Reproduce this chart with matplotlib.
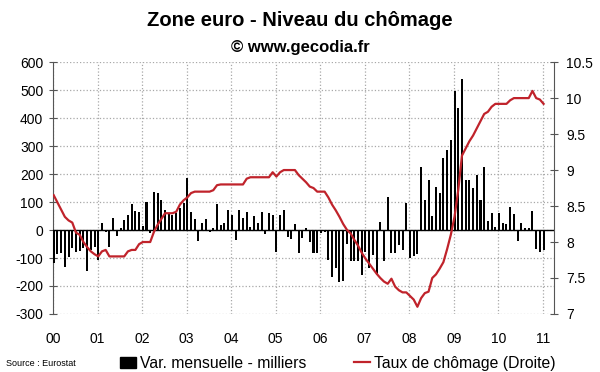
import numpy as np
import matplotlib
matplotlib.use("Agg")
import matplotlib.pyplot as plt
from matplotlib.patches import Patch
from matplotlib.lines import Line2D

plt.rcParams['font.family'] = ['Liberation Sans', 'DejaVu Sans']
plt.rcParams['axes.unicode_minus'] = False

# monthly change in unemployed persons (thousands), Jan 2000 -> Jan 2011
var_2000 = [-119, -86, -81, -133, -98, -65, -77, -74, -65, -145, -71, -60]
var_2001 = [-107, 26, -6, -62, 44, -21, 6, 36, 54, 93, 69, 63]
var_2002 = [14, 99, -12, 135, 131, 107, 71, 56, 54, 60, 77, 95]
var_2003 = [185, 65, 38, -40, 26, 38, -7, 6, 92, 18, 26, 71]
var_2004 = [54, -36, 71, 42, 65, 12, 51, 24, 65, -14, 60, 54]
var_2005 = [-77, 54, 71, -26, -32, 21, -83, -30, 8, -42, -81, -81]
var_2006 = [-12, -6, -107, -169, -137, -185, -181, -50, -110, -110, -110, -161]
var_2007 = [-77, -137, -89, -161, 30, -110, 117, -81, -83, -54, -71, 95]
var_2008 = [-101, -93, -86, 226, 107, 179, 50, 152, 133, 258, 286, 321]
var_2009 = [498, 435, 539, 179, 179, 149, 195, 107, 224, 33, 60, 10]
var_2010 = [60, 24, 21, 81, 57, -38, 24, 6, 6, 68, -69, -80]
var_2011 = [-71]

# unemployment rate (%), right axis
taux_2000 = [8.65, 8.55, 8.45, 8.35, 8.30, 8.27, 8.13, 8.10, 8.00, 7.93, 7.87, 7.83]
taux_2001 = [7.80, 7.87, 7.89, 7.80, 7.80, 7.80, 7.80, 7.80, 7.87, 7.89, 7.89, 7.97]
taux_2002 = [8.00, 8.00, 8.00, 8.14, 8.24, 8.32, 8.40, 8.40, 8.40, 8.42, 8.52, 8.58]
taux_2003 = [8.62, 8.68, 8.70, 8.70, 8.70, 8.70, 8.70, 8.72, 8.79, 8.80, 8.80, 8.80]
taux_2004 = [8.80, 8.80, 8.80, 8.80, 8.88, 8.90, 8.90, 8.90, 8.90, 8.90, 8.90, 8.97]
taux_2005 = [8.91, 8.97, 9.00, 9.00, 9.00, 9.00, 8.93, 8.88, 8.83, 8.77, 8.75, 8.70]
taux_2006 = [8.70, 8.70, 8.62, 8.52, 8.44, 8.35, 8.25, 8.17, 8.12, 8.03, 7.95, 7.85]
taux_2007 = [7.77, 7.70, 7.63, 7.56, 7.50, 7.45, 7.42, 7.49, 7.38, 7.33, 7.30, 7.30]
taux_2008 = [7.25, 7.20, 7.10, 7.22, 7.29, 7.31, 7.50, 7.55, 7.63, 7.72, 7.90, 8.10]
taux_2009 = [8.35, 8.72, 9.20, 9.30, 9.40, 9.48, 9.58, 9.68, 9.78, 9.81, 9.88, 9.92]
taux_2010 = [9.92, 9.92, 9.92, 9.97, 10.0, 10.0, 10.0, 10.0, 10.0, 10.1, 10.0, 9.98]
taux_2011 = [9.92]

year_labels = ['00', '01', '02', '03', '04', '05', '06', '07', '08', '09', '10', '11']

variation = (var_2000 + var_2001 + var_2002 + var_2003 + var_2004 + var_2005 +
             var_2006 + var_2007 + var_2008 + var_2009 + var_2010 + var_2011)
taux = (taux_2000 + taux_2001 + taux_2002 + taux_2003 + taux_2004 + taux_2005 +
        taux_2006 + taux_2007 + taux_2008 + taux_2009 + taux_2010 + taux_2011)

x = 2000 + (np.arange(len(variation)) + 0.2) / 12.0
years = 2000 + np.arange(len(year_labels))

red = '#c0232b'
grey = '#555555'

fig = plt.figure(figsize=(6, 3.72), dpi=100)
ax = fig.add_axes([0.0883, 0.156, 0.835, 0.677])

ax.bar(x, variation, width=0.045, color='black', zorder=3)
ax.axhline(0, color='black', lw=1, zorder=4)
ax.set_xlim(2000, 2011.25)
ax.set_ylim(-300, 600)
ax.set_yticks(np.arange(-300, 601, 100))
ax.set_xticks(years)
ax.set_xticklabels(year_labels)
ax.set_axisbelow(True)
ax.grid(True, linestyle=':', color='#a8a8a8', linewidth=0.9)
for s in ['top', 'bottom', 'right']:
    ax.spines[s].set_visible(False)
ax.spines['left'].set_color(grey)
ax.tick_params(axis='y', direction='inout', length=6, color=grey, labelsize=10, pad=4)
ax.tick_params(axis='x', length=0, labelsize=10, pad=13)

ax2 = ax.twinx()
ax2.plot(x, taux, color=red, lw=1.6, zorder=5)
ax2.set_ylim(7, 10.5)
ticks_r = np.arange(7, 10.51, 0.5)
ax2.set_yticks(ticks_r)
ax2.set_yticklabels(['%g' % t for t in ticks_r])
for s in ['top', 'bottom', 'left']:
    ax2.spines[s].set_visible(False)
ax2.spines['right'].set_color(grey)
ax2.tick_params(axis='y', direction='inout', length=6, color=grey, labelsize=10, pad=6)

fig.text(0.5, 0.944, 'Zone euro - Niveau du chômage', ha='center', va='center',
         fontsize=14.5, fontweight='bold')
fig.text(0.5, 0.871, '© www.gecodia.fr', ha='center', va='center',
         fontsize=12, fontweight='bold')
fig.text(0.01, 0.022, 'Source : Eurostat', ha='left', va='center', fontsize=6.5)

handles = [Patch(facecolor='black', edgecolor='black'),
           Line2D([0], [0], color=red, lw=1.6)]
fig.legend(handles, ['Var. mensuelle - milliers', 'Taux de chômage (Droite)'],
           loc='center', bbox_to_anchor=(0.563, 0.024), ncol=2, frameon=False,
           fontsize=11.3, handlelength=1.05, handletextpad=0.25, columnspacing=3.0,
           borderaxespad=0, borderpad=0)

fig.savefig('out.png', dpi=100)
